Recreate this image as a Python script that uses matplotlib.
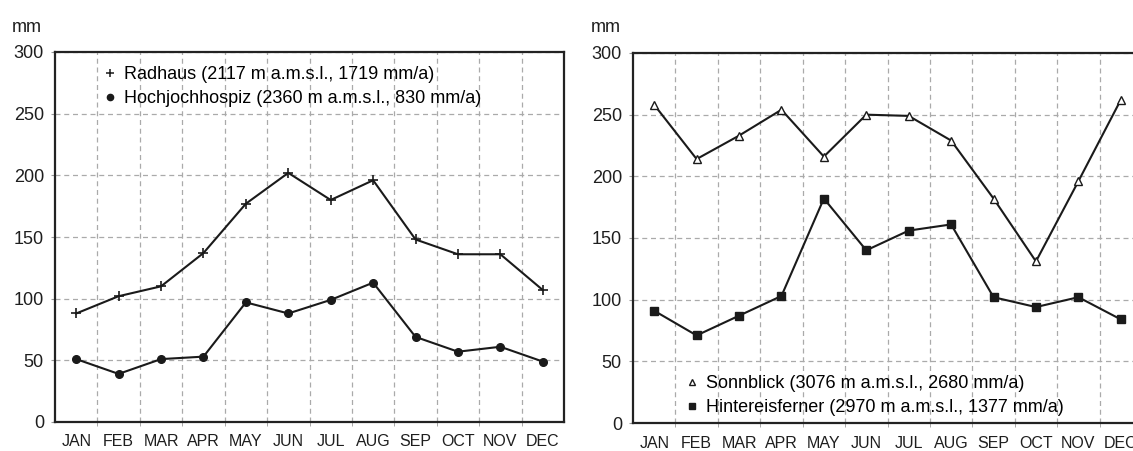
import matplotlib
matplotlib.use("Agg")
import matplotlib.pyplot as plt
from matplotlib.lines import Line2D
import numpy as np

months = ["JAN", "FEB", "MAR", "APR", "MAY", "JUN", "JUL", "AUG", "SEP", "OCT", "NOV", "DEC"]
radhaus = [88, 102, 110, 137, 177, 202, 180, 196, 148, 136, 136, 107]
hochjoch = [51, 39, 51, 53, 97, 88, 99, 113, 69, 57, 61, 49]
sonnblick = [258, 214, 233, 254, 216, 250, 249, 229, 182, 131, 196, 262]
hintereis = [91, 71, 87, 103, 182, 140, 156, 161, 102, 94, 102, 84]
yticks = [0, 50, 100, 150, 200, 250, 300]

plt.rcParams['font.family'] = ['Liberation Sans', 'DejaVu Sans']

fig = plt.figure(figsize=(11.33, 4.51), dpi=100)
W, H = 1133, 451
axL = fig.add_axes([55 / W, 1 - 422 / H, 509 / W, 370 / H])
axR = fig.add_axes([633 / W, 1 - 423 / H, 509 / W, 370 / H])

x = np.arange(len(months))
TXT = '#1e1e1e'

def style(ax):
    ax.set_xlim(-0.5, 11.5)
    ax.set_ylim(0, 300)
    ax.set_xticks(x)
    ax.set_xticklabels(months, fontsize=11.5, color=TXT)
    ax.set_xticks(x[:-1] + 0.5, minor=True)
    ax.set_yticks(yticks)
    ax.set_yticklabels([str(v) for v in yticks], fontsize=13, color=TXT)
    ax.tick_params(axis='x', which='major', length=0, pad=9)
    ax.tick_params(axis='x', which='minor', length=3, color='#999999')
    ax.tick_params(axis='y', length=3, width=0.8, color='#999999', pad=5)
    ax.grid(True, axis='x', which='minor', linestyle=(0, (4, 3)), color='#aaaaaa', linewidth=0.9)
    ax.grid(True, axis='y', which='major', linestyle=(0, (4, 3)), color='#aaaaaa', linewidth=0.9)
    ax.grid(False, axis='x', which='major')
    for s in ax.spines.values():
        s.set_linewidth(1.6)
        s.set_color('#222222')
    ax.set_axisbelow(True)

style(axL)
style(axR)

LC = '#1a1a1a'
axL.plot(x, radhaus, color=LC, lw=1.5, marker='+', ms=7, mew=1.2)
axL.plot(x, hochjoch, color=LC, lw=1.5, marker='o', ms=5.5)
hL = [Line2D([], [], ls='None', color=LC, marker='+', ms=6, mew=1.1),
      Line2D([], [], ls='None', color=LC, marker='o', ms=4.5)]
axL.legend(hL, ['Radhaus (2117 m a.m.s.l., 1719 mm/a)',
                'Hochjochhospiz (2360 m a.m.s.l., 830 mm/a)'],
           loc='upper left', bbox_to_anchor=(0.0975, 0.962), frameon=False,
           handlelength=0.6, handletextpad=0.5, labelspacing=0.4, borderpad=0,
           borderaxespad=0, prop={'size': 13})

axR.plot(x, sonnblick, color=LC, lw=1.5, marker='^', ms=6, mfc='white', mew=1.0)
axR.plot(x, hintereis, color=LC, lw=1.5, marker='s', ms=5.5)
hR = [Line2D([], [], ls='None', color=LC, marker='^', ms=5, mfc='white', mew=1.0),
      Line2D([], [], ls='None', color=LC, marker='s', ms=4.5)]
axR.legend(hR, ['Sonnblick (3076 m a.m.s.l., 2680 mm/a)',
                'Hintereisferner (2970 m a.m.s.l., 1377 mm/a)'],
           loc='lower left', bbox_to_anchor=(0.105, 0.0176), frameon=False,
           handlelength=0.6, handletextpad=0.5, labelspacing=0.4, borderpad=0,
           borderaxespad=0, prop={'size': 13})

fig.text(12 / W, 1 - 32 / H, 'mm', fontsize=13, color=TXT, va='baseline', ha='left')
fig.text(591 / W, 1 - 32 / H, 'mm', fontsize=13, color=TXT, va='baseline', ha='left')

fig.savefig('out.png', dpi=100)
